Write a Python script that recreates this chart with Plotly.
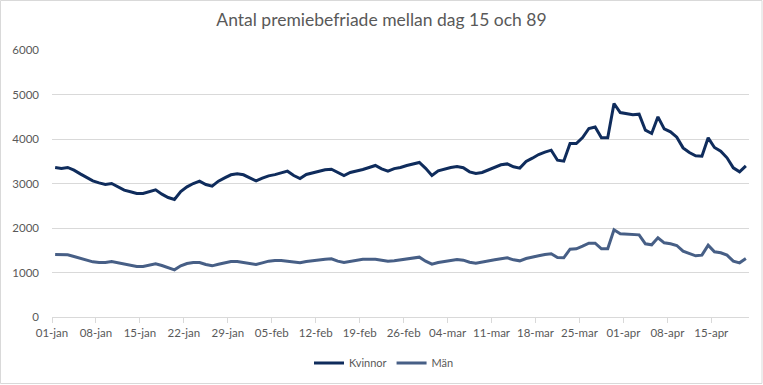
import pandas as pd
import plotly.graph_objects as go

# Daily values, 2020-01-01 .. 2020-04-20
start_date = "2020-01-01"
kvinnor = [
    3360, 3337, 3360, 3300, 3217, 3135, 3060, 3015, 2978, 3000,
    2918, 2850, 2813, 2775, 2775, 2820, 2858, 2760, 2685, 2640,
    2820, 2925, 3000, 3052, 2978, 2940, 3052, 3127, 3195, 3217,
    3195, 3127, 3060, 3120, 3172, 3200, 3245, 3277, 3180, 3112,
    3202, 3240, 3277, 3307, 3322, 3247, 3180, 3247, 3277, 3315,
    3360, 3405, 3330, 3277, 3335, 3360, 3405, 3434, 3472, 3340,
    3180, 3285, 3330, 3360, 3380, 3355, 3262, 3225, 3247, 3300,
    3367, 3420, 3440, 3375, 3345, 3494, 3569, 3652, 3704, 3749,
    3524, 3502, 3899, 3899, 4034, 4236, 4270, 4026, 4026, 4798,
    4595, 4573, 4543, 4558, 4198, 4124, 4498, 4228, 4161, 4041,
    3801, 3697, 3622, 3614, 4026, 3809, 3727, 3577, 3352, 3262,
    3397,
]
man = [
    1404, 1404, 1397, 1360, 1322, 1292, 1240, 1225, 1225, 1247,
    1217, 1180, 1150, 1135, 1135, 1165, 1195, 1157, 1105, 1060,
    1150, 1202, 1225, 1225, 1180, 1150, 1187, 1225, 1247, 1247,
    1225, 1195, 1180, 1217, 1255, 1270, 1272, 1255, 1232, 1217,
    1247, 1270, 1285, 1300, 1307, 1255, 1225, 1247, 1270, 1300,
    1300, 1300, 1277, 1255, 1262, 1285, 1315, 1337, 1345, 1255,
    1187, 1225, 1247, 1270, 1292, 1277, 1232, 1210, 1240, 1262,
    1285, 1307, 1330, 1285, 1262, 1315, 1337, 1375, 1405, 1420,
    1337, 1330, 1524, 1532, 1592, 1659, 1659, 1532, 1532, 1959,
    1872, 1865, 1854, 1846, 1644, 1622, 1779, 1667, 1644, 1607,
    1479, 1419, 1375, 1390, 1614, 1464, 1442, 1390, 1255, 1217,
    1315,
]
tick_labels = ["01-jan", "08-jan", "15-jan", "22-jan", "29-jan", "05-feb",
               "12-feb", "19-feb", "26-feb", "04-mar", "11-mar", "18-mar",
               "25-mar", "01-apr", "08-apr", "15-apr"]

days = pd.date_range(start_date, periods=len(kvinnor), freq="D")
x_vals = days + pd.Timedelta(hours=12)  # points centred in day slots
tick_vals = pd.date_range(start_date, periods=len(tick_labels), freq="7D")

grey_text = "#595959"
grid = "#d9d9d9"

fig = go.Figure()
fig.add_trace(go.Scatter(x=x_vals, y=kvinnor, name="Kvinnor", mode="lines",
                         line=dict(color="#0f2c5c", width=3)))
fig.add_trace(go.Scatter(x=x_vals, y=man, name="Män", mode="lines",
                         line=dict(color="#475f86", width=3)))

W, H = 763, 385
ml, mr, mt, mb = 52, 14, 50, 68
pw, ph = W - ml - mr, H - mt - mb

def px_x(p):
    return (p - ml) / pw

def px_y(p):
    return (H - mb - p) / ph

fig.update_layout(
    width=W, height=H,
    margin=dict(l=ml, r=mr, t=mt, b=mb, autoexpand=False),
    paper_bgcolor="white", plot_bgcolor="white",
    font=dict(family="Lato, sans-serif", color=grey_text, size=12),
    title=dict(text="Antal premiebefriade mellan dag 15 och 89",
               x=0.5, xanchor="center", y=1 - 20 / H, yanchor="middle",
               font=dict(family="Lato, sans-serif", size=17.5, color=grey_text)),
    xaxis=dict(
        range=[pd.Timestamp(start_date), pd.Timestamp(start_date) + pd.Timedelta(days=len(kvinnor))],
        tickmode="array", tickvals=tick_vals, ticktext=tick_labels,
        showgrid=False, showline=True, linecolor=grid, linewidth=1,
        ticks="outside", ticklen=5, tickcolor=grid, automargin=False,
        tickfont=dict(size=11.5, color=grey_text), zeroline=False,
    ),
    yaxis=dict(
        range=[0, 6000], dtick=1000, tick0=0,
        showgrid=True, gridcolor=grid, gridwidth=1,
        zeroline=False, showline=False, ticks="", automargin=False,
        ticklabelstandoff=12,
        tickfont=dict(size=11.5, color=grey_text),
    ),
    showlegend=True,
    legend=dict(orientation="h", x=px_x(317 - 8), xanchor="left",
                yref="container", y=1 - 363 / H, yanchor="middle",
                font=dict(size=11, color=grey_text),
                itemwidth=30, tracegroupgap=0),
)

fig.add_shape(type="rect", xref="paper", yref="paper",
              x0=px_x(0.5), x1=px_x(762), y0=px_y(383.5), y1=px_y(0.5),
              line=dict(color=grid, width=1), layer="below")

fig.write_html("out.html",
               config={"displayModeBar": False},
               post_script="document.body.style.margin='0';document.body.style.overflow='hidden';")
